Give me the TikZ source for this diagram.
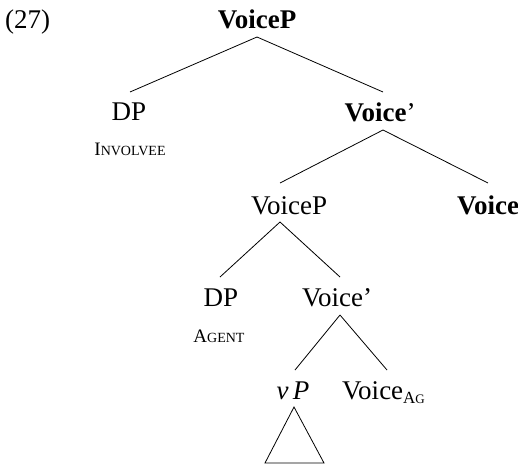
\documentclass[tikz,border=0pt]{standalone}
\usepackage{fontspec}
\setmainfont{Liberation Serif}
\usetikzlibrary{calc}
\newcommand\scword[2]{{\fontsize{19}{19}\selectfont #1}{\fontsize{14}{14}\selectfont #2}}
\tikzset{
  lbl/.style={inner sep=0pt, anchor=base, font=\fontsize{27}{32}\selectfont},
  role/.style={inner sep=0pt, anchor=base},
  edge/.style={line width=0.8pt}
}
\begin{document}
\begin{tikzpicture}[x=1pt,y=-1pt]
\useasboundingbox (0,0) rectangle (518,466);
\node[lbl, anchor=base west] (num) at (5,28) {(27)};
\node[lbl] (top) at (257,28) {\textbf{VoiceP}};
\node[lbl] (dp1) at (129,120) {DP};
\node[role] (inv) at (130,155) {\scword{I}{NVOLVEE}};
\node[lbl] (vbar1) at (380,121) {\textbf{Voice}'};
\node[lbl] (vp2) at (289,214) {VoiceP};
\node[lbl] (voice) at (488,214) {\textbf{Voice}};
\node[lbl] (dp2) at (221,306) {DP};
\node[role] (agt) at (219,342) {\scword{A}{GENT}};
\node[lbl] (vbar2) at (337,306) {Voice'};
\node[lbl] (vsmall) at (293,399) {\textit{v\,P}};
\node[lbl, anchor=base west] (vag) at (342,399) {Voice\raisebox{-4pt}{\fontsize{17}{17}\selectfont A\fontsize{13}{13}\selectfont G}};
% edges
\draw[edge] ($(top.base)+(0,9)$) -- ($(dp1.base)+(1,-28)$);
\draw[edge] ($(top.base)+(0,9)$) -- ($(vbar1.base)+(3,-29)$);
\draw[edge] ($(vbar1.base)+(3,9)$) -- ($(vp2.base)+(-9,-31)$);
\draw[edge] ($(vbar1.base)+(3,9)$) -- ($(voice.base)+(0,-31)$);
\draw[edge] ($(vp2.base)+(-9,8)$) -- ($(dp2.base)+(-1,-29)$);
\draw[edge] ($(vp2.base)+(-9,8)$) -- ($(vbar2.base)+(3,-29)$);
\draw[edge] ($(vbar2.base)+(3,9)$) -- ($(vsmall.base)+(2,-29)$);
\draw[edge] ($(vbar2.base)+(3,9)$) -- ($(vag.base west)+(45,-29)$);
\draw[edge] ($(vsmall.base)+(1,8)$) -- ($(vsmall.base)+(-28,64)$) -- ($(vsmall.base)+(31,64)$) -- cycle;
\end{tikzpicture}
\end{document}
